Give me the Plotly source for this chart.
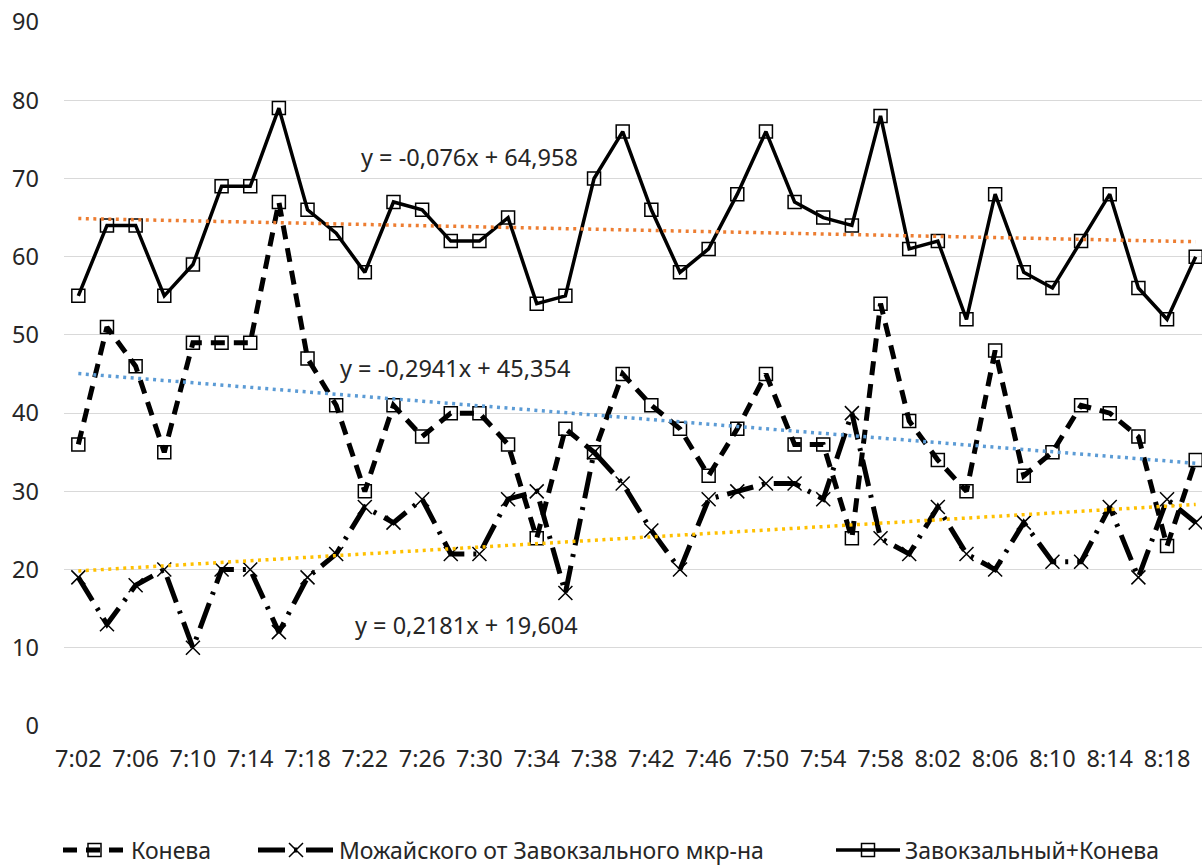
import plotly.graph_objects as go

times = ["7:02", "7:04", "7:06", "7:08", "7:10", "7:12", "7:14", "7:16", "7:18", "7:20",
         "7:22", "7:24", "7:26", "7:28", "7:30", "7:32", "7:34", "7:36", "7:38", "7:40",
         "7:42", "7:44", "7:46", "7:48", "7:50", "7:52", "7:54", "7:56", "7:58", "8:00",
         "8:02", "8:04", "8:06", "8:08", "8:10", "8:12", "8:14", "8:16", "8:18", "8:20"]

koneva = [36, 51, 46, 35, 49, 49, 49, 67, 47, 41, 30, 41, 37, 40, 40, 36, 24, 38, 35, 45,
          41, 38, 32, 38, 45, 36, 36, 24, 54, 39, 34, 30, 48, 32, 35, 41, 40, 37, 23, 34]

mozhaisk = [19, 13, 18, 20, 10, 20, 20, 12, 19, 22, 28, 26, 29, 22, 22, 29, 30, 17, 35, 31,
            25, 20, 29, 30, 31, 31, 29, 40, 24, 22, 28, 22, 20, 26, 21, 21, 28, 19, 29, 26]

zavokz = [55, 64, 64, 55, 59, 69, 69, 79, 66, 63, 58, 67, 66, 62, 62, 65, 54, 55, 70, 76,
          66, 58, 61, 68, 76, 67, 65, 64, 78, 61, 62, 52, 68, 58, 56, 62, 68, 56, 52, 60]

names = ["Конева", "Можайского от Завокзального мкр-на", "Завокзальный+Конева"]

# trendline coefficients (as printed on the chart)
trend_zavokz = (-0.076, 64.958)
trend_koneva = (-0.2941, 45.354)
trend_mozhaisk = (0.2181, 19.604)
trend_labels = ["y = -0,076x + 64,958", "y = -0,2941x + 45,354", "y = 0,2181x + 19,604"]

FONT = "Noto Sans"
FS = 23.5
TXT = "#262626"

fig = go.Figure()

fig.add_trace(go.Scatter(
    x=times, y=koneva, name=names[0], mode="lines+markers", legend="legend",
    line=dict(color="black", width=5, dash="14px,9px"),
    marker=dict(symbol="square-open", size=13, color="black", line=dict(width=1.5, color="black")),
))
fig.add_trace(go.Scatter(
    x=times, y=mozhaisk, name=names[1], mode="lines+markers", legend="legend2",
    line=dict(color="black", width=5, dash="27px,9px,3px,9px"),
    marker=dict(symbol="x-thin-open", size=14, color="black", line=dict(width=1.5, color="black")),
))
fig.add_trace(go.Scatter(
    x=times, y=zavokz, name=names[2], mode="lines+markers", legend="legend3",
    line=dict(color="black", width=3.5),
    marker=dict(symbol="square-open", size=13, color="black", line=dict(width=1.5, color="black")),
))

n = len(times)
for (k, b), col in [(trend_zavokz, "#ED7D31"), (trend_koneva, "#5B9BD5"), (trend_mozhaisk, "#FFC000")]:
    fig.add_trace(go.Scatter(
        x=times, y=[k * (i + 1) + b for i in range(n)], mode="lines",
        line=dict(color=col, width=3.5, dash="3px,4.5px"),
        showlegend=False, hoverinfo="skip",
    ))

ann_pos = [(0.259, 72.8), (0.241, 45.8), (0.254, 12.9)]
for txt, (ax, ay) in zip(trend_labels, ann_pos):
    fig.add_annotation(x=ax, y=ay, xref="paper", yref="y", text=txt, showarrow=False,
                       xanchor="left", yanchor="middle",
                       font=dict(family=FONT, size=FS, color=TXT))

def leg(px, iw):
    return dict(orientation="h", x=(px - 64) / 1138, xanchor="left", y=-0.1761, yanchor="middle",
                font=dict(family=FONT, size=23, color=TXT), itemwidth=iw,
                bgcolor="rgba(0,0,0,0)")

fig.update_layout(
    width=1202, height=867,
    margin=dict(l=64, r=0, t=22, b=141, autoexpand=False),
    paper_bgcolor="white", plot_bgcolor="white",
    font=dict(family=FONT, size=FS, color=TXT),
    showlegend=True,
    legend=leg(58, 63), legend2=leg(253, 76), legend3=leg(831, 64),
)
fig.update_xaxes(
    type="category", range=[-0.5, 39.22], tickvals=times[::2], automargin=False,
    showgrid=False, showline=False, zeroline=False, ticks="",
    ticklabelstandoff=16, tickfont=dict(family=FONT, size=FS, color=TXT),
)
fig.update_yaxes(
    range=[0, 90.01], tickvals=list(range(0, 91, 10)), automargin=False,
    showgrid=True, gridcolor="#D9D9D9", gridwidth=1.3,
    zeroline=False, showline=False, ticks="",
    ticklabelstandoff=24, tickfont=dict(family=FONT, size=FS, color=TXT),
)

fig.write_html("out.html", config={"displayModeBar": False},
               post_script="document.body.style.margin='0px';document.body.style.overflow='hidden';")
